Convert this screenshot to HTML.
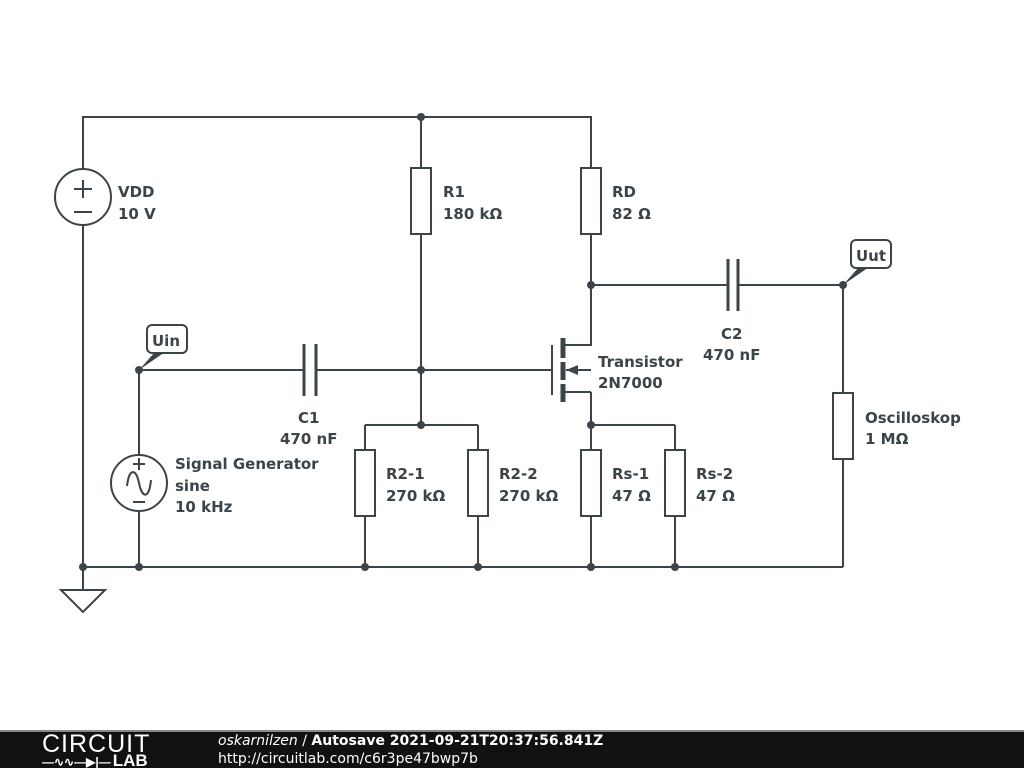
<!DOCTYPE html>
<html><head><style>
body{margin:0;background:#fff;width:1024px;height:768px;overflow:hidden;position:relative}
svg text{font-family:"DejaVu Sans","Liberation Sans",sans-serif;font-weight:bold;font-size:15px;fill:#3b4449}
#ft{position:absolute;left:0;top:730px;width:1024px;height:38px;background:#111;border-top:2px solid #888;box-sizing:border-box;color:#fff;font-family:"DejaVu Sans","Liberation Sans",sans-serif}
</style></head><body>
<svg width="1024" height="730" viewBox="0 0 1024 730" style="position:absolute;left:0;top:0">
<g stroke="#3b4449" stroke-width="2" fill="none">
<path d="M83 567V117H591V168M591 234V345H565M421 117V168M421 234V425M139 370H304M316 370H552M139 370V455M139 511V567M83 567H843M365 425H478M365 425V450M478 425V450M365 516V567M478 516V567M591 392H565M591 392V425H675M591 425V450M675 425V450M591 516V567M675 516V567M591 285H728M738 285H843V393M843 459V567M83 567V590"/>
<circle cx="83" cy="197" r="28" fill="#fff"/>
<circle cx="139" cy="483" r="28" fill="#fff"/>
<rect x="411" y="168" width="20" height="66" fill="#fff"/>
<rect x="581" y="168" width="20" height="66" fill="#fff"/>
<rect x="355" y="450" width="20" height="66" fill="#fff"/>
<rect x="468" y="450" width="20" height="66" fill="#fff"/>
<rect x="581" y="450" width="20" height="66" fill="#fff"/>
<rect x="665" y="450" width="20" height="66" fill="#fff"/>
<rect x="833" y="393" width="20" height="66" fill="#fff"/>
<path d="M61 590H105L83 612Z" fill="#fff"/>
<path d="M83 180V198M74 189H92M74 212H92"/>
<path d="M139 458V470M133 464H145M133 502H145M127 486C129 468 136 468 139 483S149 500 151 480"/>
<path d="M591 370H566" />
<path d="M552 345V395"/>
</g>
<g stroke="#3b4449" stroke-width="3" fill="none">
<path d="M304 344V396M316 344V396M728 259V311M738 259V311"/>
</g>
<g stroke="#3b4449" stroke-width="5">
<path d="M563 338V358M563 362V380M563 384V402"/>
</g>
<path d="M566 370L578 365V375Z" fill="#3b4449"/>
<g fill="#3b4449">
<circle cx="421" cy="117" r="4"/><circle cx="421" cy="370" r="4"/><circle cx="421" cy="425" r="4"/>
<circle cx="139" cy="370" r="4"/><circle cx="591" cy="285" r="4"/><circle cx="843" cy="285" r="4"/>
<circle cx="591" cy="425" r="4"/>
<circle cx="83" cy="567" r="4"/><circle cx="139" cy="567" r="4"/><circle cx="365" cy="567" r="4"/><circle cx="478" cy="567" r="4"/><circle cx="591" cy="567" r="4"/><circle cx="675" cy="567" r="4"/>
<path d="M139 370L155 352H165Z"/><path d="M843 285L859 267H869Z"/>
</g>
<rect x="147" y="325" width="40" height="28" rx="5" fill="#fff" stroke="#3b4449" stroke-width="2"/>
<rect x="851" y="240" width="40" height="28" rx="5" fill="#fff" stroke="#3b4449" stroke-width="2"/>
<text x="152" y="346">Uin</text><text x="856" y="261">Uut</text>
<text x="118" y="197">VDD</text><text x="118" y="219">10 V</text>
<text x="443" y="197">R1</text><text x="443" y="219">180 kΩ</text>
<text x="612" y="197">RD</text><text x="612" y="219">82 Ω</text>
<text x="721" y="339">C2</text><text x="703" y="360">470 nF</text>
<text x="598" y="367">Transistor</text><text x="598" y="388">2N7000</text>
<text x="298" y="423">C1</text><text x="280" y="444">470 nF</text>
<text x="175" y="469">Signal Generator</text><text x="175" y="491">sine</text><text x="175" y="512">10 kHz</text>
<text x="386" y="479">R2-1</text><text x="386" y="501">270 kΩ</text>
<text x="499" y="479">R2-2</text><text x="499" y="501">270 kΩ</text>
<text x="612" y="479">Rs-1</text><text x="612" y="501">47 Ω</text>
<text x="696" y="479">Rs-2</text><text x="696" y="501">47 Ω</text>
<text x="865" y="423">Oscilloskop</text><text x="865" y="444">1 MΩ</text>
</svg>
<div id="ft">
<div style="position:absolute;left:42px;top:-1px;font-size:25px;letter-spacing:1px;font-weight:300;line-height:26px;font-family:'Liberation Sans',sans-serif">CIRCUIT</div>
<div style="position:absolute;left:42px;top:21px;font-size:12px;line-height:15px;font-weight:bold;font-family:'Liberation Sans',sans-serif">—∿∿—▶|—<span style="font-size:17px;margin-left:2px">LAB</span></div>
<div style="position:absolute;left:218px;top:1px;font-size:14px;line-height:17px"><i>oskarnilzen</i> / <b>Autosave 2021-09-21T20:37:56.841Z</b></div>
<div style="position:absolute;left:218px;top:19px;font-size:14px;line-height:17px">http://circuitlab.com/c6r3pe47bwp7b</div>
</div>
</body></html>
